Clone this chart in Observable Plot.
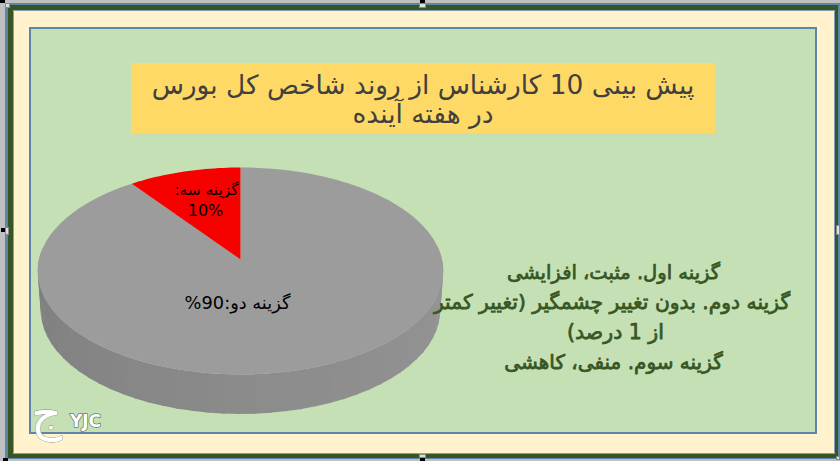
<!DOCTYPE html>
<html lang="fa"><head><meta charset="utf-8">
<script src="https://cdn.jsdelivr.net/npm/d3@7"></script>
<script src="https://cdn.jsdelivr.net/npm/@observablehq/plot@0.6"></script>
<style>
html,body{margin:0;padding:0;width:840px;height:461px;overflow:hidden;background:#c0c0c0}
.f{position:absolute;box-sizing:border-box}
.h{position:absolute;background:#d9dfe3;border:1px solid #8a8a8a;box-sizing:border-box}
.k{position:absolute;background:#000}
#chart{position:absolute;left:0;top:0}
#chart svg{background:transparent}
#title{left:131px;top:63px;width:584px;height:70px;background:#ffd966;color:#404040;font:26.4px/29px "DejaVu Sans",sans-serif;text-align:center;direction:rtl;padding-top:7px}
</style></head><body>
<div class="f" style="left:5px;top:3px;width:835px;height:456px;background:#5b86a8"></div>
<div class="f" style="left:8px;top:5px;width:830px;height:453px;background:#375623"></div>
<div class="f" style="left:13px;top:10px;width:822px;height:444px;background:#fff2cc;border:1px solid #7f9fb8"></div>
<div class="f" style="left:29px;top:27px;width:788px;height:407px;background:#c5e0b4;border:2px solid #5b86a8"></div>
<div class="f" id="title">پیش بینی 10 کارشناس از روند شاخص کل بورس<br>در هفته آینده</div>
<div class="k" style="left:0;top:0;width:5px;height:3px"></div>
<div class="h" style="left:5px;top:3px;width:5px;height:5px"></div>
<div class="k" style="left:420px;top:0;width:5px;height:3px"></div>
<div class="h" style="left:419px;top:3px;width:7px;height:5px"></div>
<div class="k" style="left:1px;top:228px;width:4px;height:4px"></div>
<div class="h" style="left:5px;top:227px;width:4px;height:8px"></div>
<div class="h" style="left:836px;top:225px;width:4px;height:10px"></div>
<div class="h" style="left:419px;top:454px;width:7px;height:4px"></div>
<div class="k" style="left:420px;top:458px;width:5px;height:3px"></div>
<div class="k" style="left:3px;top:458px;width:5px;height:3px"></div>
<div class="h" style="left:836px;top:456px;width:4px;height:4px"></div>
<div id="chart"></div>
<script>
const categories = ["گزینه دو", "گزینه سه"];
const values = [90, 10];
const colors = ["#9c9c9c", "#f60000"];
const labels = ["گزینه دو:90%", "گزینه سه:", "10%"];
const notes = ["گزینه اول. مثبت، افزایشی", "گزینه دوم. بدون تغییر چشمگیر (تغییر کمتر", "از 1 درصد)", "گزینه سوم. منفی، کاهشی"];

// Perspective view of the disc
const cx = 240, cy = 259, a = 201.5, b = 102.2, k = 0.111;
const project = (t, dy = 0, w = 1) => {
  const u = Math.sin(t), v = Math.cos(t), d = 1 + k * v;
  return {px: cx + w * a * u / d, py: cy + dy - b * v / d};
};
const arcs = d3.pie().sort(null)(values);
const wedges = arcs.flatMap((s, i) => {
  const n = Math.ceil((s.endAngle - s.startAngle) * 40);
  const pts = [{px: cx, py: cy}];
  for (let j = 0; j <= n; j++) pts.push(project(s.startAngle + (s.endAngle - s.startAngle) * j / n));
  return pts.map(p => ({...p, id: categories[i], c: colors[i]}));
});
// Side wall, shaded in strips from right to left
const shade = d3.scaleLinear().domain([Math.PI / 2, Math.PI, 3 * Math.PI / 2]).range(["#959595", "#8b8b8b", "#7e7e7e"]);
const wall = [];
const nStrips = 48, t0 = Math.PI / 2 - 0.12, t1 = 3 * Math.PI / 2 + 0.12;
for (let i = 0; i < nStrips; i++) {
  const s0 = t0 + (t1 - t0) * i / nStrips, s1 = t0 + (t1 - t0) * (i + 1.15) / nStrips;
  const c = shade(Math.min(Math.max((s0 + s1) / 2, Math.PI / 2), 3 * Math.PI / 2));
  [project(s0), project(s1), project(s1, 39.5, .985), project(s0, 39.5, .985)].forEach(p => wall.push({...p, id: i, c}));
}
const chart = Plot.plot({
  width: 840, height: 461, margin: 0,
  x: {domain: [0, 840], range: [0, 840], axis: null},
  y: {domain: [0, 461], range: [0, 461], axis: null},
  color: {type: "identity"},
  marks: [
    Plot.line(wall, {x: "px", y: "py", z: "id", fill: "c", stroke: null}),
    Plot.line(wedges, {x: "px", y: "py", z: "id", fill: "c", stroke: null}),
    Plot.text([labels[0]], {x: [237], y: [303], text: d => d, fontSize: 17.8, fill: "#000", fontFamily: "DejaVu Sans", textAnchor: "middle"}),
    Plot.text([labels[1]], {x: [206], y: [190], text: d => d, fontSize: 15.4, fill: "#000", fontFamily: "DejaVu Sans"}),
    Plot.text([labels[2]], {x: [205], y: [210], text: d => d, fontSize: 16, fill: "#000", fontFamily: "DejaVu Sans"}),
    Plot.text(notes, {x: [613, 611.5, 615, 613], y: [272, 302, 332, 362], text: d => d, fontSize: [19.5, 20.3, 20.5, 20], fill: "#375623", stroke: "#375623", strokeWidth: 0.75, fontFamily: "DejaVu Sans"}),
    Plot.text(["YJC"], {x: [85], y: [421], text: d => d, fontSize: 17, fontWeight: "bold", fill: "#fff", stroke: "#6a7a66", strokeWidth: 1.5, paintOrder: "stroke", fontFamily: "DejaVu Sans"}),
    Plot.text(["ج"], {x: [46], y: [414], text: d => d, fontSize: 48, fill: "#fff", stroke: "#7a8a70", strokeWidth: .8, paintOrder: "stroke", fontFamily: "DejaVu Sans"})
  ]
});
chart.setAttribute("direction", "rtl");
chart.style.background = "transparent";
document.getElementById("chart").append(chart);
</script>
</body></html>
